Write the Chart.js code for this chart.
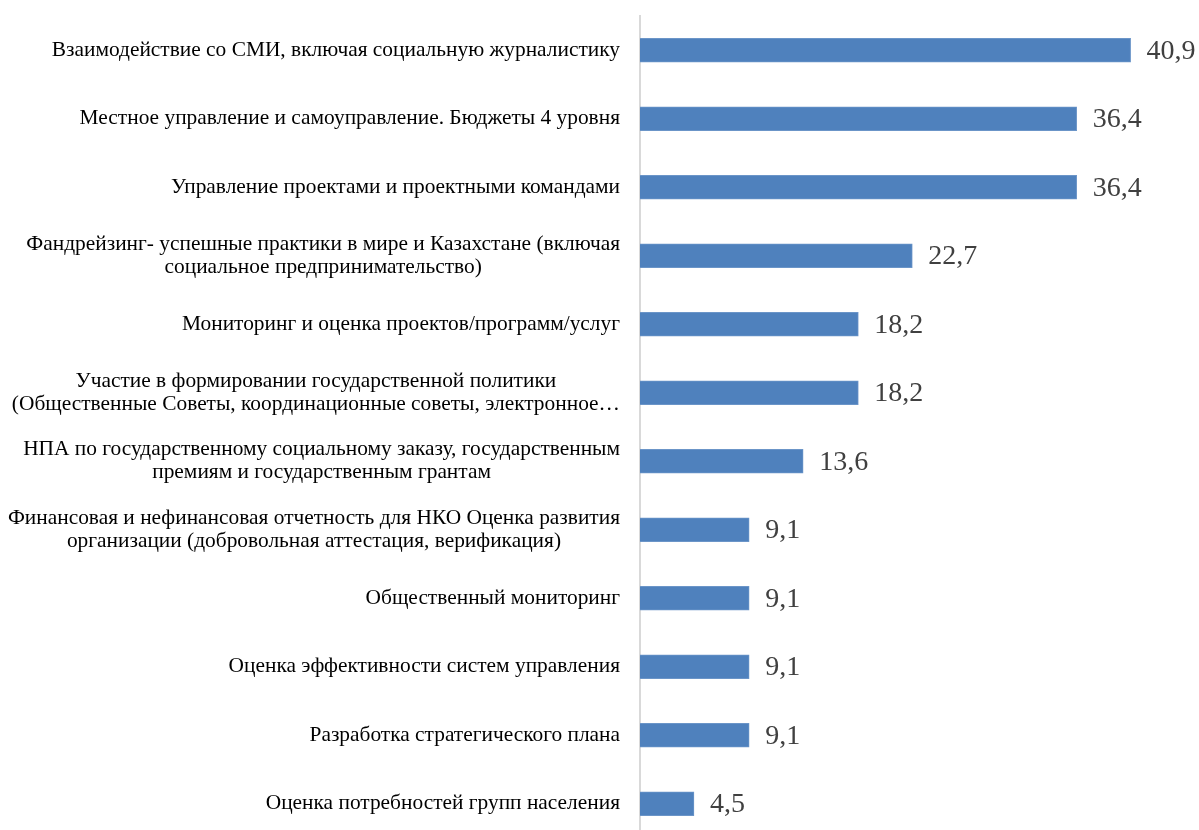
<!DOCTYPE html>
<html lang="ru">
<head>
<meta charset="utf-8">
<title>Темы обучения</title>
<script src="https://cdn.jsdelivr.net/npm/chart.js@4"></script>
<style>
  html, body { margin: 0; padding: 0; background: #fff; overflow: hidden; }
  #wrap { width: 1199px; height: 840px; position: relative; }
</style>
</head>
<body>
<div id="wrap"><canvas id="grafico"></canvas></div>
<script>
// Категории (строки подписи)
const categorias = [
  ["Взаимодействие со СМИ, включая социальную журналистику"],
  ["Местное управление и самоуправление. Бюджеты 4 уровня"],
  ["Управление проектами и проектными командами"],
  ["Фандрейзинг- успешные практики в мире и Казахстане (включая", "социальное предпринимательство)"],
  ["Мониторинг и оценка проектов/программ/услуг"],
  ["Участие в формировании государственной политики", "(Общественные Советы, координационные советы, электронное…"],
  ["НПА по государственному социальному заказу, государственным", "премиям и государственным грантам"],
  ["Финансовая и нефинансовая отчетность для НКО Оценка развития", "организации (добровольная аттестация, верификация)"],
  ["Общественный мониторинг"],
  ["Оценка эффективности систем управления"],
  ["Разработка стратегического плана"],
  ["Оценка потребностей групп населения"]
];

// Значения, %
const valores = [40.9, 36.4, 36.4, 22.7, 18.2, 18.2, 13.6, 9.1, 9.1, 9.1, 9.1, 4.5];

const fonteLabel = '21.4px "Liberation Serif", "Times New Roman", serif';
const fonteValor = '28px "Liberation Serif", "Times New Roman", serif';

// Подписи категорий слева: блок выровнен вправо, строки по центру блока
const pluginLabels = {
  id: 'labelsEsquerda',
  afterDraw(chart) {
    const ctx = chart.ctx;
    const y = chart.scales.y;
    const xDireita = chart.chartArea.left - 20;
    ctx.save();
    ctx.font = fonteLabel;
    ctx.fillStyle = '#000';
    ctx.textBaseline = 'middle';
    ctx.textAlign = 'center';
    categorias.forEach((linhas, i) => {
      const centro = y.getPixelForValue(i);
      const largura = Math.max(...linhas.map(l => ctx.measureText(l).width));
      const xCentro = xDireita - largura / 2;
      const alturaLinha = 23;
      const inicio = centro - (linhas.length - 1) * alturaLinha / 2;
      linhas.forEach((l, j) => ctx.fillText(l, xCentro, inicio + j * alturaLinha));
    });
    ctx.restore();
  }
};

// Значения справа от столбцов
const pluginValores = {
  id: 'valores',
  afterDatasetsDraw(chart) {
    const ctx = chart.ctx;
    const meta = chart.getDatasetMeta(0);
    ctx.save();
    ctx.font = fonteValor;
    ctx.fillStyle = '#404040';
    ctx.textBaseline = 'middle';
    ctx.textAlign = 'left';
    meta.data.forEach((bar, i) => {
      ctx.fillText(valores[i].toFixed(1).replace('.', ','), bar.x + 16, bar.y + 1);
    });
    ctx.restore();
  }
};

const ctx = document.getElementById('grafico').getContext('2d');

new Chart(ctx, {
  type: 'bar',
  data: {
    labels: categorias.map(c => c.join(' ')),
    datasets: [{
      data: valores,
      backgroundColor: '#4f81bd',
      borderColor: '#6b95c8',
      borderWidth: 1,
      barThickness: 24
    }]
  },
  options: {
    indexAxis: 'y',
    responsive: true,
    maintainAspectRatio: false,
    animation: false,
    layout: { padding: { top: 16, bottom: 2, left: 0, right: 0 } },
    scales: {
      x: {
        display: false,
        min: 0,
        max: 46.6
      },
      y: {
        grid: { display: false },
        border: { display: true, color: '#d9d9d9', width: 2 },
        ticks: { display: false },
        afterFit(scale) { scale.width = 640; }
      }
    },
    plugins: {
      legend: { display: false },
      tooltip: { enabled: false }
    }
  },
  plugins: [pluginLabels, pluginValores]
});
</script>
</body>
</html>
